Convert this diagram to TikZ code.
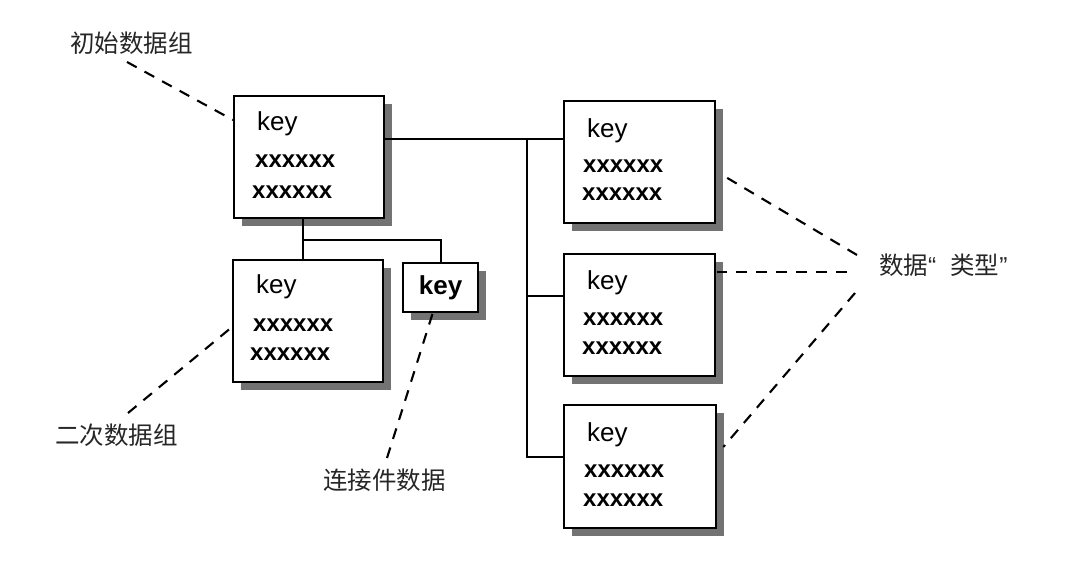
\documentclass[tikz,border=0pt]{standalone}
\usepackage{fontspec}
\setmainfont{Liberation Sans}
\newfontfamily\cjk{Noto Sans CJK SC}
\usetikzlibrary{calc,shadows}
\begin{document}
\begin{tikzpicture}[x=1pt,y=-1pt,
  box/.style={draw=black,line width=2.3pt,fill=white,inner sep=0pt,
    drop shadow={shadow xshift=8pt,shadow yshift=-8pt,opacity=1,fill=black!55}},
  bigbox/.style={box,minimum width=150pt,minimum height=122pt,anchor=north west},
  smallbox/.style={box,minimum width=75pt,minimum height=49pt,anchor=north west},
  keytxt/.style={anchor=base west,inner sep=0pt,font=\fontsize{26}{26}\selectfont},
  boldkey/.style={inner sep=0pt,font=\fontsize{26}{26}\selectfont\bfseries},
  xtxt/.style={anchor=base west,inner sep=0pt,font=\fontsize{24}{24}\selectfont\bfseries},
  lbl/.style={anchor=west,inner sep=0pt,font=\cjk\fontsize{24.5}{25}\selectfont,text=black!85},
  link/.style={line width=2.1pt},
  callout/.style={line width=2.1pt,dash pattern=on 11pt off 9pt}
]
\useasboundingbox (0,0) rectangle (1086,560);

% junction points
\coordinate (j1) at (303,240);
\coordinate (j2) at (527,139);
\coordinate (j3) at (527,296);
\coordinate (j4) at (527,457);

% boxes
\node[bigbox] (A) at (233,95) {};
\node[bigbox] (B) at (232,259) {};
\node[smallbox] (C) at (402,262) {};
\node[bigbox,minimum width=151pt] (D) at (563,100) {};
\node[bigbox,minimum width=151pt] (E) at (563,253) {};
\node[bigbox,minimum width=152pt,minimum height=123pt] (F) at (563,404) {};

\draw[link] (A.south -| j1) -- (B.north -| j1);
\draw[link] (j1) -| (C.north);
\draw[link] (A.east |- j2) -- (D.west |- j2);
\draw[link] (j2) -- (j4) -- (F.west |- j4);
\draw[link] (j3) -- (E.west |- j3);

% box texts
\node[keytxt] (Ak) at ($(A.north west)+(24,35)$) {key};
\node[xtxt] (Ax1) at ($(A.north west)+(22,72)$) {xxxxxx};
\node[xtxt] (Ax2) at ($(A.north west)+(19,103)$) {xxxxxx};

\node[keytxt] (Bk) at ($(B.north west)+(24,34)$) {key};
\node[xtxt] (Bx1) at ($(B.north west)+(21,72)$) {xxxxxx};
\node[xtxt] (Bx2) at ($(B.north west)+(18,101)$) {xxxxxx};

\node[boldkey] (Ck) at (C.center) {key};

\node[keytxt] (Dk) at ($(D.north west)+(24,37)$) {key};
\node[xtxt] (Dx1) at ($(D.north west)+(20,72)$) {xxxxxx};
\node[xtxt] (Dx2) at ($(D.north west)+(19,100)$) {xxxxxx};

\node[keytxt] (Ek) at ($(E.north west)+(24,36)$) {key};
\node[xtxt] (Ex1) at ($(E.north west)+(20,72)$) {xxxxxx};
\node[xtxt] (Ex2) at ($(E.north west)+(19,101)$) {xxxxxx};

\node[keytxt] (Fk) at ($(F.north west)+(24,37)$) {key};
\node[xtxt] (Fx1) at ($(F.north west)+(21,73)$) {xxxxxx};
\node[xtxt] (Fx2) at ($(F.north west)+(20,102)$) {xxxxxx};

% labels
\node[lbl] (L1) at (70,43) {初始数据组};
\node[lbl] (L2) at (55,435) {二次数据组};
\node[lbl] (L3) at (323,480) {连接件数据};
\node[lbl] (L4) at (879,265) {数据{\rmfamily “}\hspace{14pt}类型{\rmfamily ”}};

% callout lines
\coordinate (c1) at (127,62);
\coordinate (c2) at (128,413);
\coordinate (c3) at (387,458);
\coordinate (c4) at (857,255);
\coordinate (c5) at (847,272);
\coordinate (c6) at (855,293);
\draw[callout] (c1) -- ($(A.north west)+(0,25)$);
\draw[callout] (c2) -- ($(B.north west)+(0,68)$);
\draw[callout] (c3) -- ($(C.south)+(-8,0)$);
\draw[callout] (c4) -- ($(D.north east)+(6,75)$);
\draw[callout] (c5) -- ($(E.north east)+(1,19)$);
\draw[callout] (c6) -- ($(F.north east)+(6,43)$);
\end{tikzpicture}
\end{document}
